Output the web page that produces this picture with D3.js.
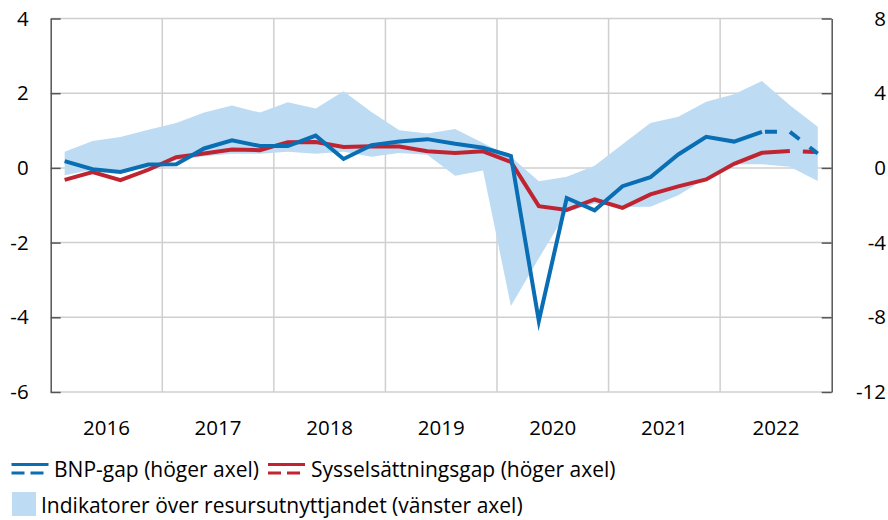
<!DOCTYPE html>
<html>
<head>
<meta charset="utf-8">
<script src="https://cdn.jsdelivr.net/npm/d3@7"></script>
<style>
  html, body { margin: 0; padding: 0; background: #fff; }
  svg { display: block; font-family: "Open Sans", Lato, sans-serif; }
</style>
</head>
<body>
<svg id="chart" width="888" height="520"></svg>
<script>
// ---- data ----
const quarters = [
  "2016Q1","2016Q2","2016Q3","2016Q4",
  "2017Q1","2017Q2","2017Q3","2017Q4",
  "2018Q1","2018Q2","2018Q3","2018Q4",
  "2019Q1","2019Q2","2019Q3","2019Q4",
  "2020Q1","2020Q2","2020Q3","2020Q4",
  "2021Q1","2021Q2","2021Q3","2021Q4",
  "2022Q1","2022Q2","2022Q3","2022Q4"
];
const years = ["2016","2017","2018","2019","2020","2021","2022"];

// BNP-gap (right axis)
const bnpGap = [0.36, -0.07, -0.22, 0.18, 0.20, 1.04, 1.48, 1.17,
                1.17, 1.73, 0.48, 1.22, 1.41, 1.54, 1.29, 1.08,
                0.64, -8.2, -1.61, -2.27, -0.98, -0.50, 0.72, 1.66,
                1.41, 1.93, 1.93, 0.77];
// Sysselsättningsgap (right axis)
const sysGap = [-0.64, -0.23, -0.66, -0.10, 0.57, 0.77, 0.99, 0.95,
                1.38, 1.39, 1.12, 1.16, 1.14, 0.89, 0.80, 0.89,
                0.32, -2.05, -2.25, -1.69, -2.14, -1.42, -0.99, -0.62,
                0.22, 0.81, 0.91, 0.85];
// Indicators band (left axis)
const bandUpper = [0.43, 0.72, 0.83, 1.02, 1.20, 1.48, 1.67, 1.48,
                   1.76, 1.59, 2.05, 1.50, 1.01, 0.92, 1.04, 0.67,
                   0.30, -0.36, -0.24, 0.06, 0.63, 1.20, 1.37, 1.77,
                   1.97, 2.33, 1.68, 1.10];
const bandLower = [-0.20, -0.05, -0.12, 0.07, 0.20, 0.31, 0.38, 0.38,
                   0.43, 0.38, 0.43, 0.30, 0.40, 0.35, -0.21, -0.07,
                   -3.70, -2.42, -1.18, -0.95, -1.05, -1.04, -0.73, -0.28,
                   0.10, 0.10, 0.03, -0.35];
// forecasts start (dashed from this quarter on)
const bnpForecastFrom = "2022Q2";
const sysForecastFrom = "2022Q3";

const leftTicks = [4, 2, 0, -2, -4, -6];
const rightTicks = [8, 4, 0, -4, -8, -12];

const legendItems = [
  "BNP-gap (höger axel)",
  "Sysselsättningsgap (höger axel)",
  "Indikatorer över resursutnyttjandet (vänster axel)"
];

// ---- layout ----
const X0 = 50.7, X1 = 831.7, Y0 = 18.5, Y1 = 392;
const BLUE = "#0a6eb4", RED = "#c02430", BAND = "#bddcf3";
const GRID = "#cfcfcf", AXIS = "#555555";
const FONT = "'Open Sans', Lato, sans-serif";
const FS = 20.5;
const LFS = 21;

const svg = d3.select("#chart");

const x = d3.scaleBand().domain(quarters).range([X0, X1]).padding(0);
const xc = q => x(q) + x.bandwidth() / 2;
const xYear = d3.scaleBand().domain(years).range([X0, X1]).padding(0);
const yL = d3.scaleLinear().domain([-6, 4]).range([Y1, Y0]);
const yR = d3.scaleLinear().domain([-12, 8]).range([Y1, Y0]);

// gridlines
const grid = svg.append("g");
grid.selectAll("line.h").data(leftTicks).join("line")
  .attr("x1", X0).attr("x2", X1)
  .attr("y1", d => yL(d)).attr("y2", d => yL(d))
  .attr("stroke", GRID).attr("stroke-width", 1.5);
grid.selectAll("line.v").data(years.slice(1)).join("line")
  .attr("x1", d => xYear(d)).attr("x2", d => xYear(d))
  .attr("y1", Y0).attr("y2", Y1)
  .attr("stroke", GRID).attr("stroke-width", 1.5);

// band
const bandData = quarters.map((q, i) => ({ q, hi: bandUpper[i], lo: bandLower[i] }));
svg.append("path")
  .datum(bandData)
  .attr("fill", BAND)
  .attr("d", d3.area().x(d => xc(d.q)).y0(d => yL(d.lo)).y1(d => yL(d.hi)));

// lines
function drawSeries(values, color, forecastFrom, dashOffset) {
  const data = quarters.map((q, i) => ({ q, v: values[i] }));
  const k = quarters.indexOf(forecastFrom);
  const line = d3.line().x(d => xc(d.q)).y(d => yR(d.v));
  svg.append("path").datum(data.slice(0, k + 1))
    .attr("fill", "none").attr("stroke", color).attr("stroke-width", 4)
    .attr("stroke-linejoin", "miter").attr("stroke-miterlimit", 20).attr("d", line);
  svg.append("path").datum(data.slice(k))
    .attr("fill", "none").attr("stroke", color).attr("stroke-width", 4)
    .attr("stroke-dasharray", "12 13").attr("stroke-dashoffset", dashOffset)
    .attr("d", line);
}
drawSeries(sysGap, RED, sysForecastFrom, 12);
drawSeries(bnpGap, BLUE, bnpForecastFrom, 22);

// axes
const fmt = d => String(d);
const axL = svg.append("g").attr("transform", `translate(${X0},0)`)
  .call(d3.axisLeft(yL).tickValues(leftTicks).tickFormat(fmt).tickSizeInner(-10).tickSizeOuter(0).tickPadding(22));
const axR = svg.append("g").attr("transform", `translate(${X1},0)`)
  .call(d3.axisRight(yR).tickValues(rightTicks).tickFormat(fmt).tickSizeInner(-10).tickSizeOuter(0).tickPadding(0));
[axL, axR].forEach(a => {
  a.select(".domain").attr("stroke", AXIS).attr("stroke-width", 1.5);
  a.selectAll(".tick line").attr("stroke", AXIS).attr("stroke-width", 1.5);
  a.selectAll("text").attr("font-size", FS).attr("font-family", FONT).attr("fill", "#000");
});
axR.selectAll("text").attr("text-anchor", "end").attr("x", 886 - X1);

const axB = svg.append("g").attr("transform", `translate(0,${Y1})`)
  .call(d3.axisBottom(xYear).tickSize(0).tickPadding(28));
axB.select(".domain").remove();
axB.selectAll("text").attr("font-size", FS).attr("font-family", FONT).attr("fill", "#000");

// legend
const lg = svg.append("g").attr("font-family", FONT).attr("font-size", LFS);
function lineIcon(x0, color) {
  lg.append("line").attr("x1", x0).attr("x2", x0 + 37).attr("y1", 464.5).attr("y2", 464.5)
    .attr("stroke", color).attr("stroke-width", 3);
  lg.append("line").attr("x1", x0).attr("x2", x0 + 37).attr("y1", 473).attr("y2", 473)
    .attr("stroke", color).attr("stroke-width", 3).attr("stroke-dasharray", "13 6");
}
lineIcon(11.5, BLUE);
lg.append("text").attr("x", 54).attr("y", 476.5).text(legendItems[0]);
lineIcon(268, RED);
lg.append("text").attr("x", 311).attr("y", 476.5).text(legendItems[1]);
lg.append("rect").attr("x", 12).attr("y", 492).attr("width", 24).attr("height", 24).attr("fill", BAND);
lg.append("text").attr("x", 41).attr("y", 513).text(legendItems[2]);
</script>
</body>
</html>
